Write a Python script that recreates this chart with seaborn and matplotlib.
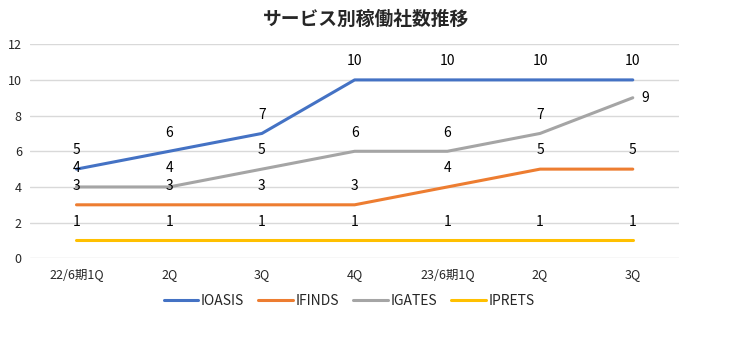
import matplotlib

matplotlib.use("Agg")
import matplotlib.pyplot as plt
import pandas
import seaborn as sns
from pandas import DataFrame

quarters: list[str] = ["22/6期1Q", "2Q", "3Q", "4Q", "23/6期1Q", "2Q", "3Q"]
services: list[str] = ["IOASIS", "IFINDS", "IGATES", "IPRETS"]
ioasis: list[int] = [5, 6, 7, 10, 10, 10, 10]
ifinds: list[int] = [3, 3, 3, 3, 4, 5, 5]
igates: list[int] = [4, 4, 5, 6, 6, 7, 9]
iprets: list[int] = [1, 1, 1, 1, 1, 1, 1]
colors: list[str] = ["#4472C4", "#ED7D31", "#A5A5A5", "#FFC000"]


def build_frame() -> DataFrame:
    rows: list[dict] = []
    for name, values in zip(services, [ioasis, ifinds, igates, iprets]):
        for i, v in enumerate(values):
            rows.append({"pos": i, "service": name, "value": v})
    return DataFrame(rows)


def plot(df: DataFrame) -> None:
    sns.set_style("white")
    plt.rcParams["font.family"] = ["Noto Sans CJK JP", "DejaVu Sans"]

    fig = plt.figure(figsize=(7.35, 3.51), dpi=100)
    ax = fig.add_axes([0.041, 0.264, 0.883, 0.610])

    sns.lineplot(
        data=df,
        x="pos",
        y="value",
        hue="service",
        hue_order=services,
        palette=colors,
        linewidth=2.2,
        ax=ax,
        legend=False,
    )

    # Data labels above each point; last grey one goes to the right
    for name, values in zip(services, [ioasis, ifinds, igates, iprets]):
        for i, v in enumerate(values):
            if name == "IGATES" and i == len(values) - 1:
                ax.annotate(str(v), (i, v), xytext=(6, 0), textcoords="offset points",
                            ha="left", va="center", fontsize=10, color="black")
            else:
                ax.annotate(str(v), (i, v), xytext=(0, 13.5), textcoords="offset points",
                            ha="center", va="center", fontsize=10, color="black")

    ax.set_xlim(-0.5, 6.5)
    ax.set_ylim(0, 12)
    ax.set_yticks(range(0, 13, 2))
    ax.set_xticks(range(len(quarters)))
    ax.set_xticklabels(quarters, fontsize=9)
    ax.tick_params(axis="y", labelsize=9, length=0, pad=6)
    ax.tick_params(axis="x", length=0, pad=7)
    ax.grid(axis="y", color="#D9D9D9", linewidth=1)
    ax.set_axisbelow(True)
    for side in ["top", "right", "left", "bottom"]:
        ax.spines[side].set_visible(False)
    ax.set_xlabel("")
    ax.set_ylabel("")

    fig.text(0.498, 0.945, "サービス別稼働社数推移", ha="center", va="center",
             fontsize=13.5, fontweight="bold")

    handles = [plt.Line2D([0], [0], color=c, linewidth=2.2) for c in colors]
    fig.legend(handles, services, loc="center", bbox_to_anchor=(0.475, 0.142),
               ncol=4, frameon=False, fontsize=10, handlelength=2.5,
               handletextpad=0.2, columnspacing=1.0)

    fig.savefig("out.png", dpi=100)
    plt.close(fig)


def main() -> None:
    plot(df=build_frame())


if __name__ == "__main__":
    main()
